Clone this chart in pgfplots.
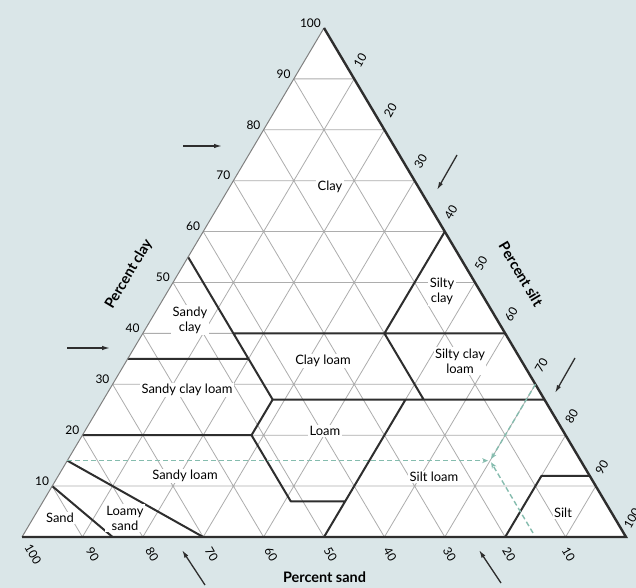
\documentclass[border=0pt]{standalone}
\usepackage{fontspec}
\setmainfont{Lato}
\usepackage{pgfplots}
\pgfplotsset{compat=1.18}
\usetikzlibrary{arrows.meta}

\definecolor{bg}{HTML}{DAE6E8}
\definecolor{gridc}{HTML}{ADADAD}
\definecolor{ink}{HTML}{2E2E2E}
\definecolor{dashc}{HTML}{85BCAE}

% (sand, clay) in percent -> picture position
\pgfplotsset{table/tern/.style={
  x expr=22+6.04*(100-\thisrow{s}-0.5*\thisrow{c}),
  y expr=51+5.09*\thisrow{c}}}

\begin{document}
\begin{tikzpicture}
\begin{axis}[
  width=636bp, height=588bp, scale only axis,
  xmin=0, xmax=636, ymin=0, ymax=588,
  hide axis, clip=false,
  unbounded coords=jump,
  every node/.append style={text=ink},
]
\fill[bg] (axis cs:0,0) rectangle (axis cs:636,588);

% white triangle
\addplot[fill=white, draw=none] table[tern, row sep=\\] {
s c\\ 100 0\\ 0 0\\ 0 100\\
} -- cycle;

% grid lines every 10 %
\addplot[gridc, line width=0.8bp] table[tern, row sep=\\] {
s c\\
90 10\\ 0 10\\ nan nan\\
80 20\\ 0 20\\ nan nan\\
70 30\\ 0 30\\ nan nan\\
60 40\\ 0 40\\ nan nan\\
50 50\\ 0 50\\ nan nan\\
40 60\\ 0 60\\ nan nan\\
30 70\\ 0 70\\ nan nan\\
20 80\\ 0 80\\ nan nan\\
10 90\\ 0 90\\ nan nan\\
10 0\\ 10 90\\ nan nan\\
20 0\\ 20 80\\ nan nan\\
30 0\\ 30 70\\ nan nan\\
40 0\\ 40 60\\ nan nan\\
50 0\\ 50 50\\ nan nan\\
60 0\\ 60 40\\ nan nan\\
70 0\\ 70 30\\ nan nan\\
80 0\\ 80 20\\ nan nan\\
90 0\\ 90 10\\ nan nan\\
90 0\\ 0 90\\ nan nan\\
80 0\\ 0 80\\ nan nan\\
70 0\\ 0 70\\ nan nan\\
60 0\\ 0 60\\ nan nan\\
50 0\\ 0 50\\ nan nan\\
40 0\\ 0 40\\ nan nan\\
30 0\\ 0 30\\ nan nan\\
20 0\\ 0 20\\ nan nan\\
10 0\\ 0 10\\
};

% texture class boundaries
\addplot[ink, line width=2bp, line join=round] table[tern, row sep=\\] {
s c\\
90 10\\ 85 0\\ nan nan\\
85 15\\ 70 0\\ nan nan\\
80 20\\ 52 20\\ 52 7\\ 43 7\\ nan nan\\
50 0\\ 23 27\\ nan nan\\
65 35\\ 45 35\\ nan nan\\
45 55\\ 45 27\\ 52 20\\ nan nan\\
45 27\\ 0 27\\ nan nan\\
45 40\\ 0 40\\ nan nan\\
20 40\\ 20 27\\ nan nan\\
20 40\\ 0 60\\ nan nan\\
20 0\\ 8 12\\ 0 12\\
};

% outer edges
\addplot[draw=gray, line width=1bp] table[tern, row sep=\\] {
s c\\ 100 0\\ 0 100\\
};
\addplot[draw=ink, line width=2.4bp, line join=miter] table[tern, row sep=\\] {
s c\\ 0 100\\ 0 0\\ 100 0\\
};

% example soil: 15 % sand, 15 % clay, 70 % silt
\addplot[dashc, line width=1.4bp, dash pattern=on 5bp off 3bp, -{Stealth[length=6bp,width=5bp]}, shorten >=2bp] table[tern, row sep=\\] {
s c\\ 85 15\\ 15 15\\
};
\addplot[dashc, line width=1.4bp, dash pattern=on 5bp off 3bp, -{Stealth[length=6bp,width=5bp]}, shorten >=2bp] table[tern, row sep=\\] {
s c\\ 0 30\\ 15 15\\
};
\addplot[dashc, line width=1.4bp, dash pattern=on 5bp off 3bp, -{Stealth[length=6bp,width=5bp]}, shorten >=2bp] table[tern, row sep=\\] {
s c\\ 15 0.8\\ 15 15\\
};

% tick labels
\pgfplotsinvokeforeach{10,20,...,100}{
  \node[anchor=east, font=\fontsize{12}{13}\selectfont, inner sep=1bp]
    at (axis cs:{20+3.02*#1},{56+5.09*#1}) {#1};
  \node[rotate=60, font=\fontsize{12}{13}\selectfont, inner sep=1bp]
    at (axis cs:{330+3.02*#1},{579-5.09*#1}) {#1};
  \node[rotate=-60, font=\fontsize{12}{13}\selectfont, inner sep=1bp]
    at (axis cs:{628-5.95*#1},34) {#1};
}

% axis titles
\node[rotate=59.3, font=\fontsize{14.5}{16}\selectfont\bfseries] at (axis cs:129,314) {Percent clay};
\node[rotate=-59.3, font=\fontsize{14.5}{16}\selectfont\bfseries] at (axis cs:521,314) {Percent silt};
\node[font=\fontsize{14.5}{16}\selectfont\bfseries] at (axis cs:324.5,11) {Percent sand};

% class names
\begin{scope}[every node/.append style={fill=white, inner sep=1.5bp, align=center,
    font=\fontsize{13}{15}\selectfont}]
\node at (axis cs:330,401) {Clay};
\node at (axis cs:190,268) {Sandy\\clay};
\node at (axis cs:323,227) {Clay loam};
\node at (axis cs:442,297) {Silty\\clay};
\node at (axis cs:460,227) {Silty clay\\loam};
\node at (axis cs:187,198) {Sandy clay loam};
\node at (axis cs:325,157) {Loam};
\node at (axis cs:185,112) {Sandy loam};
\node at (axis cs:434,111) {Silt loam};
\node at (axis cs:60,70) {Sand};
\node at (axis cs:125,70) {Loamy\\sand};
\node at (axis cs:563,75) {Silt};
\end{scope}

% reading-direction arrows
\begin{scope}[ink, line width=1.3bp, -{Latex[length=8bp,width=4.5bp]}]
\draw (axis cs:183,442) -- (axis cs:222,442);
\draw (axis cs:67,240) -- (axis cs:110,240);
\draw (axis cs:457,433) -- (axis cs:437,398);
\draw (axis cs:575,230) -- (axis cs:555,195);
\draw (axis cs:205,3) -- (axis cs:182,38);
\draw (axis cs:501,5) -- (axis cs:479,38);
\end{scope}
\end{axis}
\pgfresetboundingbox
\useasboundingbox (current axis.south west) rectangle (current axis.north east);
\end{tikzpicture}
\end{document}
